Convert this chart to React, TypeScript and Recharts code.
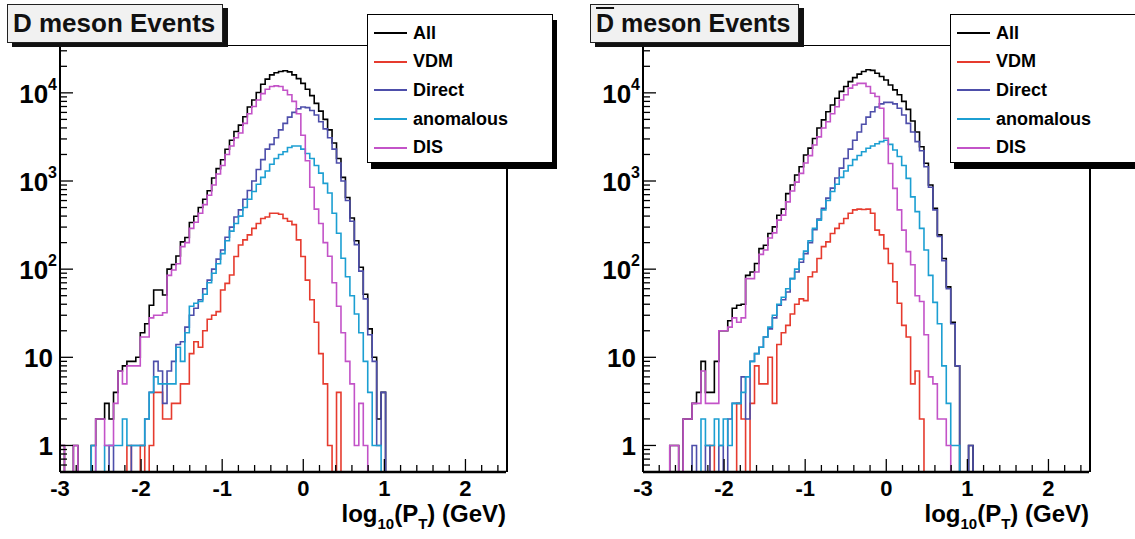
import { LineChart, Line, XAxis, YAxis } from 'recharts'

const FONT = '"Liberation Sans", Arial, Helvetica, sans-serif'

// histogram binning: 100 bins of log10(pT) from -3 to 2.5
const binLow = -3
const binWidth = 0.055
const nBins = 100
const yFloor = 0.5
const yTop = 34000

const seriesNames = ['All', 'VDM', 'Direct', 'anomalous', 'DIS']
const seriesKeys = ['all', 'vdm', 'direct', 'anom', 'dis']
const seriesColors = ['#000000', '#e63b2e', '#4d4eaa', '#1c9fd2', '#c353c8']

const xTickLabels = [-3, -2, -1, 0, 1, 2]
const yDecades = [1, 10, 100, 1000, 10000]

// D meson, bin contents starting at bin 0
const dAll = [
  1, 0, 0, 1, 0, 0, 0, 1, 2, 2,
  3, 2, 4, 7, 8, 9, 9, 10, 19, 24,
  39, 58, 58, 51, 100, 113, 141, 204, 229, 338,
  398, 500, 620, 776, 1080, 1380, 1740, 2290, 2900, 3650,
  4300, 5350, 6900, 8300, 10100, 12500, 14300, 16000, 16900, 17500,
  17800, 17300, 16000, 14500, 12800, 11000, 9300, 7600, 6200, 5000,
  3800, 2700, 1800, 1100, 650, 380, 210, 105, 52, 21,
  10, 2, 4,
]
const dVdm = [
  0, 0, 0, 0, 0, 0, 0, 0, 0, 0,
  0, 0, 0, 0, 0, 1, 0, 0, 1, 0,
  1, 4, 4, 2, 2, 3, 3, 5, 5, 11,
  15, 13, 20, 27, 30, 33, 58, 69, 86, 139,
  188, 215, 245, 290, 330, 375, 390, 430, 430, 420,
  375, 350, 320, 215, 139, 75, 45, 25, 11, 5,
  1, 0, 4,
]
const dDirect = [
  0, 0, 0, 0, 0, 0, 0, 0, 0, 0,
  0, 1, 0, 0, 0, 0, 1, 1, 1, 2,
  4, 9, 7, 3, 7, 9, 14, 15, 22, 30,
  36, 45, 60, 75, 100, 130, 165, 230, 300, 390,
  470, 620, 780, 1000, 1350, 1750, 2300, 2600, 3100, 3800,
  4500, 5300, 6000, 6600, 6900, 6800, 6300, 5600, 4700, 3900,
  3100, 2300, 1600, 1000, 600, 350, 190, 95, 46, 18,
  9, 1, 4,
]
const dAnom = [
  0, 0, 0, 0, 0, 0, 0, 1, 0, 0,
  1, 1, 1, 1, 2, 1, 1, 1, 1, 2,
  4, 6, 5, 5, 5, 5, 13, 9, 19, 38,
  41, 43, 52, 70, 90, 115, 150, 210, 270, 330,
  400, 500, 620, 760, 920, 1100, 1300, 1550, 1800, 2000,
  2150, 2400, 2500, 2500, 2300, 2050, 1800, 1500, 1230, 940,
  730, 430, 255, 133, 82, 50, 31, 19, 9, 4,
  1, 1,
]
const dDis = [
  1, 0, 0, 1, 0, 0, 0, 0, 2, 2,
  1, 1, 3, 7, 5, 8, 8, 8, 17, 17,
  28, 30, 30, 32, 85, 98, 115, 180, 200, 290,
  340, 430, 540, 690, 900, 1200, 1500, 2000, 2500, 3100,
  3500, 4500, 5800, 7000, 8300, 9800, 11000, 11800, 12000, 11800,
  10700, 9500, 8000, 5800, 3300, 1700, 850, 480, 330, 200,
  140, 70, 38, 19, 9, 5, 1, 3, 1,
]

// anti-D meson
const bAll = [
  0, 0, 0, 0, 0, 0, 1, 1, 0, 2,
  2, 3, 4, 9, 4, 4, 9, 20, 20, 26,
  36, 39, 40, 85, 93, 116, 171, 187, 254, 302,
  409, 480, 720, 900, 1170, 1450, 1970, 2360, 3040, 3990,
  4940, 6100, 7270, 8700, 10400, 11800, 13400, 14900, 16300, 17500,
  18300, 18000, 16700, 15300, 14000, 12300, 10800, 9500, 8000, 6500,
  4800, 3600, 2450, 1590, 900, 490, 245, 132, 63, 25,
  8, 0, 0, 1,
]
const bVdm = [
  0, 0, 0, 0, 0, 0, 0, 0, 0, 0,
  0, 0, 0, 0, 0, 1, 0, 0, 0, 0,
  0, 3, 2, 0, 3, 8, 5, 5, 10, 3,
  14, 19, 23, 31, 40, 46, 44, 82, 93, 132,
  180, 204, 254, 290, 330, 375, 430, 470, 480, 475,
  480, 430, 277, 245, 171, 116, 72, 41, 23, 17,
  5, 7, 2,
]
const bDirect = [
  0, 0, 0, 0, 0, 0, 0, 0, 0, 0,
  0, 1, 0, 0, 1, 0, 0, 1, 0, 2,
  3, 3, 6, 2, 9, 11, 13, 17, 21, 28,
  39, 45, 55, 78, 93, 120, 150, 200, 280, 370,
  490, 640, 830, 1080, 1400, 1800, 2300, 2900, 3600, 4400,
  5300, 6100, 6900, 7500, 7800, 7800, 7500, 6700, 5600, 4500,
  3600, 2800, 2200, 1450, 850, 470, 235, 125, 60, 24,
  8, 0, 0, 1,
]
const bAnom = [
  0, 0, 0, 0, 0, 0, 0, 0, 0, 0,
  0, 0, 0, 2, 1, 1, 2, 1, 2, 1,
  3, 3, 4, 6, 9, 11, 13, 17, 22, 30,
  40, 48, 60, 78, 100, 130, 160, 210, 290, 360,
  470, 600, 760, 920, 1100, 1300, 1500, 1750, 1950, 2150,
  2350, 2500, 2650, 2800, 2900, 2600, 2250, 1900, 1500, 1070,
  660, 450, 290, 165, 85, 42, 24, 8, 3, 1,
  1,
]
const bDis = [
  0, 0, 0, 0, 0, 0, 1, 1, 0, 2,
  2, 3, 3, 7, 3, 3, 3, 20, 20, 22,
  28, 25, 28, 78, 78, 93, 147, 165, 226, 258,
  360, 410, 580, 770, 970, 1220, 1600, 1940, 2560, 3170,
  3990, 4700, 5800, 6950, 8300, 9500, 11300, 12300, 12800, 12800,
  11800, 9900, 9100, 6700, 3050, 1580, 825, 470, 277, 158,
  112, 50, 43, 18, 6, 5, 2, 2, 1,
]

// step rows: one point per bin low edge plus the upper edge of the last bin.
// empty bins sit on the bottom of the log frame
function buildRows(cols: number[][]) {
  const rows: any[] = []
  for (let k = 0; k <= nBins; k++) {
    const bin = Math.min(k, nBins - 1)
    const row: any = { x: +(binLow + k * binWidth).toFixed(4) }
    cols.forEach((c, i) => {
      const v = c[bin] ?? 0
      row[seriesKeys[i]] = v > 0 ? v : yFloor
    })
    rows.push(row)
  }
  return rows
}

const dRows = buildRows([dAll, dVdm, dDirect, dAnom, dDis])
const bRows = buildRows([bAll, bVdm, bDirect, bAnom, bDis])

const xTicks: number[] = []
for (let i = 0; i <= 27; i++) xTicks.push(+(-3 + i * 0.2).toFixed(2))

const yTicks: number[] = [0.6, 0.7, 0.8, 0.9]
yDecades.forEach((d) => {
  for (let m = 1; m <= 9; m++) if (d * m < yTop) yTicks.push(d * m)
})

function XTick(props: any) {
  const { x, y, payload } = props
  const v = payload.value
  const major = xTickLabels.some((t) => Math.abs(t - v) < 1e-6)
  return (
    <g>
      <line x1={x} x2={x} y1={y} y2={y - (major ? 13 : 7)} stroke="#000" strokeWidth={1.3} />
      {major && (
        <text x={x} y={y + 24} textAnchor="middle" fontSize={22} fontWeight="bold" fontFamily={FONT} fill="#000">
          {v}
        </text>
      )}
    </g>
  )
}

function YTick(props: any) {
  const { x, y, payload } = props
  const v = payload.value
  const major = yDecades.includes(v)
  const exp = Math.round(Math.log10(v))
  return (
    <g>
      <line x1={x} x2={x + (major ? 13 : 7)} y1={y} y2={y} stroke="#000" strokeWidth={1.3} />
      {major && (
        <text
          x={exp >= 2 ? x - 3 : x - 7}
          y={y + 10}
          textAnchor="end"
          fontSize={26}
          fontWeight="bold"
          fontFamily={FONT}
          fill="#000"
        >
          {exp === 0 ? '1' : '10'}
          {exp >= 2 && (
            <tspan fontSize={16} dy={-13}>
              {exp}
            </tspan>
          )}
        </text>
      )}
    </g>
  )
}

const W = 552
const H = 539
const plotLeft = 60
const plotRight = 506
const plotTop = 46
const plotBottom = 472

function Panel({ rows, left, bar }: { rows: any[]; left: number; bar: boolean }) {
  return (
    <div style={{ position: 'absolute', left, top: 0, width: W, height: H }}>
      <LineChart width={W} height={H} data={rows} margin={{ top: plotTop, right: W - plotRight, bottom: 0, left: 0 }}>
        <XAxis
          dataKey="x"
          type="number"
          domain={[-3, 2.5]}
          allowDataOverflow
          ticks={xTicks}
          interval={0}
          tickSize={0}
          tickMargin={0}
          tickLine={false}
          tick={(p: any) => <XTick {...p} />}
          axisLine={{ stroke: '#000', strokeWidth: 2.5 }}
          height={H - plotBottom}
        />
        <YAxis
          type="number"
          scale="log"
          domain={[yFloor, yTop]}
          allowDataOverflow
          ticks={yTicks}
          interval={0}
          tickSize={0}
          tickMargin={0}
          tickLine={false}
          tick={(p: any) => <YTick {...p} />}
          axisLine={{ stroke: '#000', strokeWidth: 2 }}
          width={plotLeft}
        />
        {seriesKeys.map((k, i) => (
          <Line
            key={k}
            type="stepAfter"
            dataKey={k}
            stroke={seriesColors[i]}
            strokeWidth={1.6}
            dot={false}
            activeDot={false}
            isAnimationActive={false}
          />
        ))}
      </LineChart>

      {/* top and right edges of the frame */}
      <div
        style={{
          position: 'absolute',
          left: plotLeft,
          top: plotTop - 1,
          width: plotRight - plotLeft,
          height: plotBottom - plotTop,
          borderTop: '1.5px solid #000',
          borderRight: '2px solid #000',
          pointerEvents: 'none',
        }}
      />

      {/* title box */}
      <div
        style={{
          position: 'absolute',
          left: 7,
          top: 4,
          width: bar ? 209 : 216,
          height: 39,
          boxSizing: 'border-box',
          background: '#f1f1f1',
          border: '1.5px solid #222',
          boxShadow: '5px 4px 0 #111',
          fontFamily: FONT,
          fontWeight: 'bold',
          fontSize: bar ? 25 : 26,
          lineHeight: '36px',
          paddingLeft: 5,
          color: '#111',
          whiteSpace: 'nowrap',
        }}
      >
        {bar ? <span style={{ textDecoration: 'overline' }}>D</span> : 'D'} meson Events
      </div>

      {/* legend */}
      <div
        style={{
          position: 'absolute',
          left: 367,
          top: 14,
          width: 186,
          height: 149,
          boxSizing: 'border-box',
          background: '#fff',
          border: '1.5px solid #000',
          boxShadow: '4px 6px 0 #000',
        }}
      >
        {seriesNames.map((n, i) => (
          <div
            key={n}
            style={{ position: 'absolute', left: 6, top: 6 + i * 28.7, height: 24, display: 'flex', alignItems: 'center' }}
          >
            <div style={{ width: 33, height: 2, background: seriesColors[i] }} />
            <span
              style={{ marginLeft: 6, fontFamily: FONT, fontWeight: 'bold', fontSize: 18, color: '#000', whiteSpace: 'nowrap' }}
            >
              {n}
            </span>
          </div>
        ))}
      </div>

      {/* x axis title */}
      <div
        style={{
          position: 'absolute',
          left: plotRight - 220,
          top: 501,
          width: 220,
          textAlign: 'right',
          fontFamily: FONT,
          fontWeight: 'bold',
          fontSize: 24,
          lineHeight: '26px',
          color: '#000',
          whiteSpace: 'nowrap',
        }}
      >
        log<sub style={{ fontSize: 15, verticalAlign: '-7px', lineHeight: 0 }}>10</sub>(P
        <sub style={{ fontSize: 15, verticalAlign: '-7px', lineHeight: 0 }}>T</sub>) (GeV)
      </div>
    </div>
  )
}

export default function App() {
  return (
    <div style={{ position: 'absolute', left: 0, top: 0, width: 1135, height: 539, background: '#fff', overflow: 'hidden' }}>
      <Panel rows={dRows} left={0} bar={false} />
      <Panel rows={bRows} left={583} bar={true} />
    </div>
  )
}
